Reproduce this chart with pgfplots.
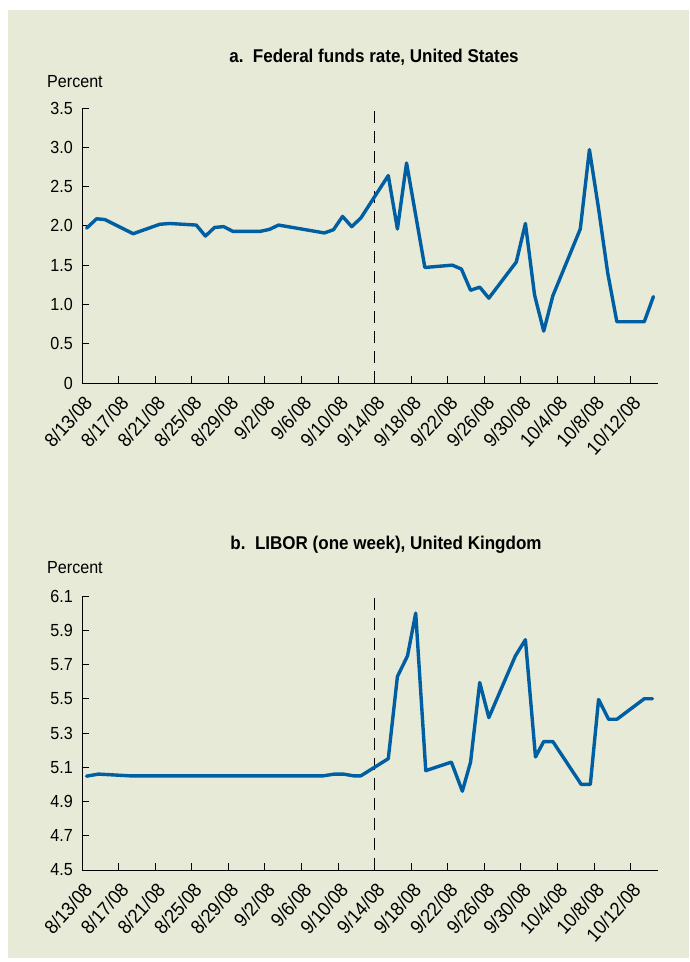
\documentclass[border=0pt]{standalone}
\usepackage{fontspec}
\setmainfont{Liberation Sans}[FakeStretch=0.92]
\usepackage{pgfplots}
\pgfplotsset{compat=1.18}
\definecolor{bg}{RGB}{231,234,214}
\definecolor{rate}{RGB}{0,94,162}

\pgfplotsset{
  panel/.style={
    scale only axis, width=576pt,
    xmin=0, xmax=63,
    axis lines=left, axis line style={-, black, line width=0.8pt},
    tick align=inside, major tick length=7pt,
    tick style={black, line width=0.8pt},
    xtick={0,4,...,60},
    xticklabels={8/13/08,8/17/08,8/21/08,8/25/08,8/29/08,9/2/08,9/6/08,9/10/08,
      9/14/08,9/18/08,9/22/08,9/26/08,9/30/08,10/4/08,10/8/08,10/12/08},
    ticklabel style={font=\fontsize{17.5}{20}\selectfont},
    xticklabel style={rotate=48, anchor=east, inner sep=0pt, xshift=-8pt, yshift=-15.5pt,
      font=\fontsize{19.5}{21}\selectfont},
    yticklabel style={anchor=east, inner sep=0pt, xshift=-9pt},
    /pgf/number format/assume math mode=true,
    clip=false,
  },
  ser/.style={color=rate, line width=3.4pt, line join=round, line cap=round},
  cut/.style={black, line width=1pt, dash pattern=on 12pt off 8pt},
}

\begin{document}
\begin{tikzpicture}[x=1pt,y=1pt]
\fill[white] (0,0) rectangle (689,962);
\fill[bg] (8,4) rectangle (689,952);

\node[anchor=base, font=\fontsize{18.5}{21}\selectfont\bfseries] at (374,899) {a.\ \ Federal funds rate, United States};
\node[anchor=base west, inner sep=0pt, font=\fontsize{17.5}{20}\selectfont] at (47,874) {Percent};

\begin{axis}[panel, at={(82pt,579pt)}, anchor=origin, height=275pt,
  ymin=0, ymax=3.5, ytick={0,0.5,...,3.5},
  yticklabels={0,0.5,1.0,1.5,2.0,2.5,3.0,3.5}]
\addplot[cut] coordinates {(32,0) (32,3.5)};
\addplot[ser] coordinates {
 (0.5,1.97) (1.6,2.09) (2.5,2.08) (5.6,1.90) (8.5,2.02) (9.6,2.03) (12.5,2.01)
 (13.5,1.87) (14.5,1.98) (15.5,1.99) (16.5,1.93) (19.5,1.93) (20.5,1.955) (21.5,2.01)
 (26.5,1.91) (27.5,1.95) (28.5,2.12) (29.5,1.99) (30.5,2.10) (33.5,2.64) (34.5,1.96)
 (35.5,2.80) (37.5,1.47) (40.5,1.50) (41.5,1.45) (42.5,1.18) (43.5,1.22) (44.5,1.08)
 (47.5,1.54) (48.5,2.03) (49.5,1.12) (50.5,0.66) (51.5,1.11) (54.5,1.96) (55.5,2.97)
 (56.5,2.22) (57.5,1.40) (58.5,0.78) (61.5,0.78) (62.5,1.10)};
\end{axis}

\node[anchor=base, font=\fontsize{18.5}{21}\selectfont\bfseries] at (386,412) {b.\ \ LIBOR (one week), United Kingdom};
\node[anchor=base west, inner sep=0pt, font=\fontsize{17.5}{20}\selectfont] at (47,388) {Percent};

\begin{axis}[panel, at={(82pt,92pt)}, anchor=origin, height=274pt,
  ymin=4.5, ymax=6.1, ytick={4.5,4.7,...,6.15},
  yticklabels={4.5,4.7,4.9,5.1,5.3,5.5,5.7,5.9,6.1}]
\addplot[cut] coordinates {(32,4.5) (32,6.1)};
\addplot[ser] coordinates {
 (0.5,5.048) (1.8,5.06) (5.2,5.05) (26.4,5.05) (27.6,5.06) (28.6,5.06) (29.7,5.05)
 (30.5,5.05) (33.5,5.15) (34.5,5.63) (35.6,5.75) (36.5,6.0) (37.6,5.08) (40.4,5.13)
 (41.6,4.96) (42.5,5.13) (43.5,5.595) (44.5,5.39) (47.4,5.75) (48.5,5.845) (49.6,5.16)
 (50.5,5.25) (51.5,5.25) (54.6,5.0) (55.6,5.0) (56.5,5.496) (57.6,5.38) (58.5,5.38)
 (61.5,5.50) (62.4,5.50)};
\end{axis}
\end{tikzpicture}
\end{document}
